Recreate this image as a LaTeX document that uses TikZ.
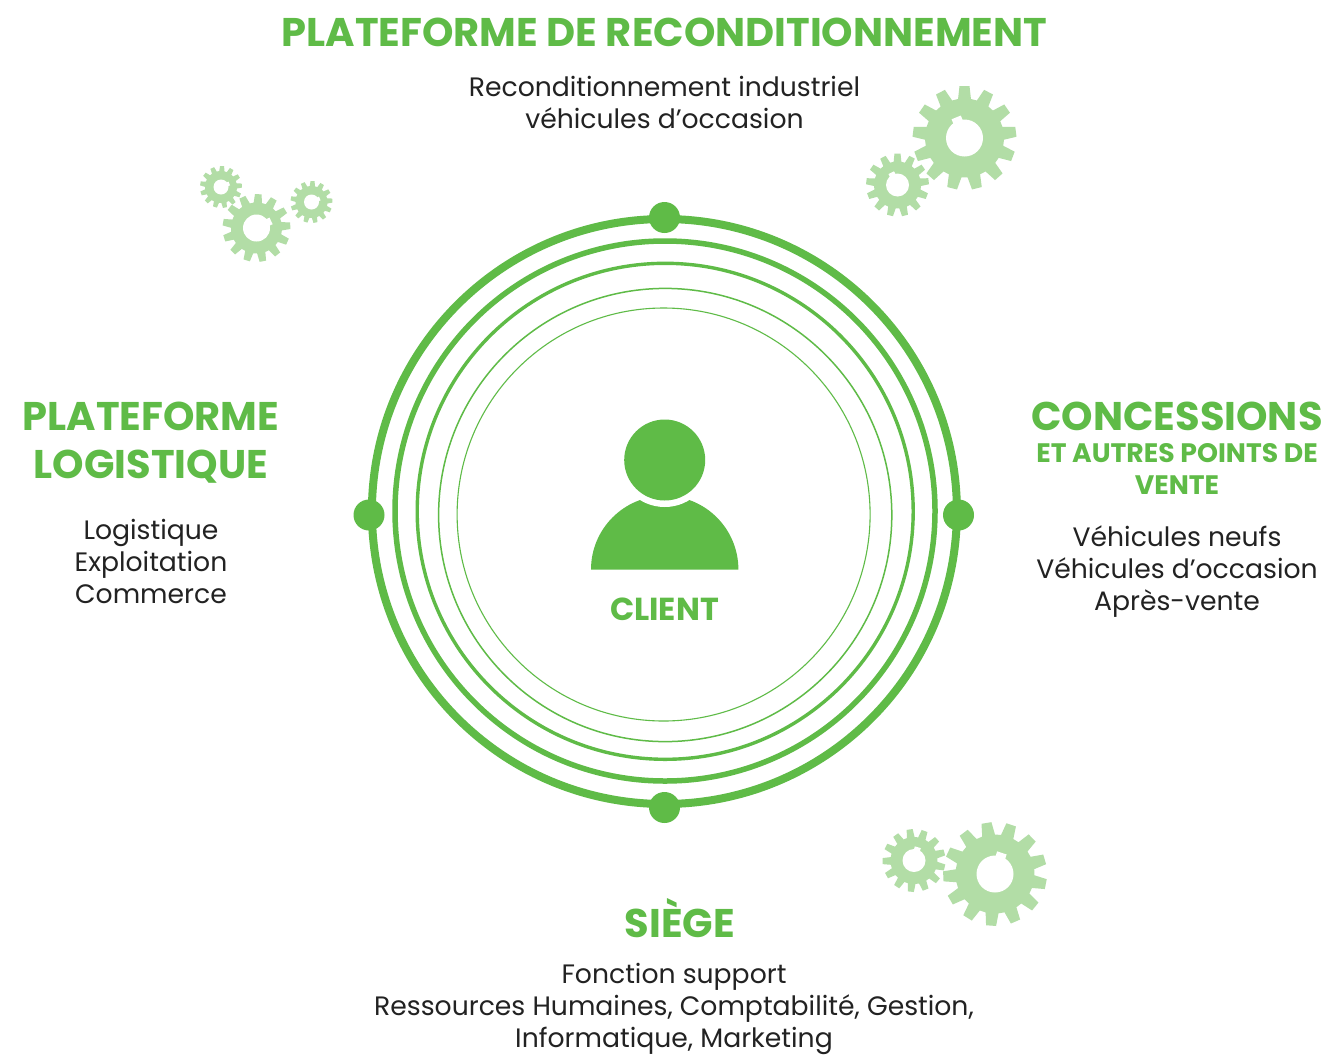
\documentclass[tikz,border=0pt]{standalone}
\usepackage{fontspec}
\setmainfont{Poppins}[BoldFont={Poppins Bold}]
\definecolor{grn}{HTML}{5FBB47}
\definecolor{lgrn}{HTML}{B2DDA6}
\definecolor{txt}{HTML}{222222}
\newcommand{\gearshape}[8]{%
% cx cy R r hole n rot notchangle
\begin{scope}[shift={(#1,#2)}]
\fill[lgrn,line join=round]
 (#7-0.34*360/#6:#4)
 \foreach \k in {1,...,#6}{
  \pgfextra{\pgfmathsetmacro{\ang}{#7+(\k-1)*360/#6}}
  -- (\ang-0.34*360/#6:#4) -- (\ang-0.2*360/#6:#3) -- (\ang+0.2*360/#6:#3) -- (\ang+0.34*360/#6:#4)
 } -- cycle;
\fill[white] (0,0) circle (#5);
\begin{scope}[rotate=-#8]
\fill[white] (0.7*#5,-0.27*#5) rectangle (1.2*#5,0.27*#5);
\end{scope}
\end{scope}}
\tikzset{
 ttl/.style={font=\bfseries\fontsize{40}{48}\selectfont,text=grn,align=center,inner sep=0pt},
 sub/.style={font=\bfseries\fontsize{26.7}{32}\selectfont,text=grn,align=center,inner sep=0pt},
 body/.style={font=\fontsize{26.65}{32}\selectfont,text=txt,align=center,inner sep=0pt},
 ring/.style={draw=grn,fill=none},
 dot/.style={circle,fill=grn,minimum size=31pt,inner sep=0pt}
}
\begin{document}
\begin{tikzpicture}[x=1pt,y=-1pt]
\useasboundingbox (0,0) rectangle (1324,1055);
\fill[white] (0,0) rectangle (1324,1055);
% rings
\draw[ring,line width=8pt] (664.4,511.5) circle (292.5);
\draw[ring,line width=5.5pt] (665,511) circle (270);
\draw[ring,line width=3.4pt] (665.2,511.3) circle (248);
\draw[ring,line width=1.5pt] (665.2,515) circle (226.6);
\draw[ring,line width=1.1pt] (663.6,514.5) circle (206.5);
\node[dot] (dt) at (664.5,217.5) {};
\node[dot] (db) at (664.5,807.5) {};
\node[dot] (dl) at (369,515) {};
\node[dot] (dr) at (958.5,515) {};
% person
\fill[grn] (591,569.5) arc[start angle=180,end angle=360,radius=73.7] -- cycle;
\fill[white] (664.7,460) circle (47);
\fill[grn] (664.7,460) circle (40.5);
\node[font=\bfseries\fontsize{31.8}{36}\selectfont,text=grn,inner sep=0pt] (client) at (664.5,609) {CLIENT};
% gears
\gearshape{964.5}{138}{52}{39.5}{18.5}{13}{-90}{248}
\gearshape{897.5}{185}{31.5}{23.5}{11.5}{13}{-90}{243}
\gearshape{995}{874}{52}{39.5}{18.5}{13}{-99.5}{288}
\gearshape{914}{860.5}{31.5}{23.5}{11.5}{13}{-98}{286}
\gearshape{256.5}{228}{34}{25.5}{13.5}{13}{-87}{334}
\gearshape{221}{187}{21}{16}{7.5}{13}{-87}{337}
\gearshape{311.5}{202}{21}{16}{7.5}{13}{-87}{337}
% texts
\node[ttl] (t1) at (664.5,32) {PLATEFORME DE RECONDITIONNEMENT};
\node[body] (b1) at (664.5,102.5) {Reconditionnement industriel\\véhicules d’occasion};
\node[ttl] (t2) at (151,442.5) {PLATEFORME\\LOGISTIQUE};
\node[body] (b2) at (151,561.5) {Logistique\\Exploitation\\Commerce};
\node[ttl] (t3) at (1177,416) {CONCESSIONS};
\node[sub] (s3) at (1177,468.5) {ET AUTRES POINTS DE\\VENTE};
\node[body] (b3) at (1177,571.5) {Véhicules neufs\\Véhicules d’occasion\\Après-vente};
\node[ttl] (t4) at (680,918) {SIÈGE};
\node[body] (b4) at (674,1008.5) {Fonction support\\Ressources Humaines, Comptabilité, Gestion,\\Informatique, Marketing};
\end{tikzpicture}
\end{document}
